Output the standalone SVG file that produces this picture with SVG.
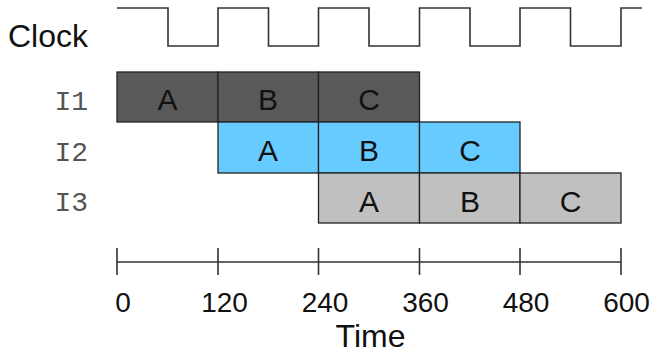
<svg xmlns="http://www.w3.org/2000/svg" width="655" height="354" viewBox="0 0 655 354">
<style>
.s{font-family:"Liberation Sans",Arial,sans-serif;fill:#111;text-anchor:middle}
.lbl{font-size:30px}
.big{font-size:32px}
.num{font-size:28px}
.mono{font-family:"Liberation Mono","Courier New",monospace;font-size:28px;fill:#555;text-anchor:end}
.blk{stroke:#222;stroke-width:1.3}
.d{fill:#595959}.b{fill:#66ccff}.g{fill:#c0c0c0}
.ln{fill:none;stroke:#333;stroke-width:1.6}
</style>
<rect width="655" height="354" fill="#fff"/>
<g id="clock">
<text class="s big" x="48" y="47">Clock</text>
<path class="ln" d="M117,8H168V46H218V8H268.5V46H318.5V8H369V46H419.5V8H470V46H520V8H570.5V46H621V8H642"/>
</g>
<g id="row-I1">
<text class="mono" x="88" y="110">I1</text>
<rect class="blk d" x="117" y="72" width="101" height="50"/>
<rect class="blk d" x="218" y="72" width="100.5" height="50"/>
<rect class="blk d" x="318.5" y="72" width="101" height="50"/>
<text class="s lbl" x="167.5" y="110">A</text>
<text class="s lbl" x="268" y="110">B</text>
<text class="s lbl" x="369" y="110">C</text>
</g>
<g id="row-I2">
<text class="mono" x="88" y="161">I2</text>
<rect class="blk b" x="218" y="122" width="100.5" height="51"/>
<rect class="blk b" x="318.5" y="122" width="101" height="51"/>
<rect class="blk b" x="419.5" y="122" width="100.5" height="51"/>
<text class="s lbl" x="268" y="161">A</text>
<text class="s lbl" x="369" y="161">B</text>
<text class="s lbl" x="470" y="161">C</text>
</g>
<g id="row-I3">
<text class="mono" x="88" y="211">I3</text>
<rect class="blk g" x="318.5" y="173" width="101" height="50"/>
<rect class="blk g" x="419.5" y="173" width="100.5" height="50"/>
<rect class="blk g" x="520" y="173" width="101" height="50"/>
<text class="s lbl" x="369" y="212">A</text>
<text class="s lbl" x="470" y="212">B</text>
<text class="s lbl" x="570.5" y="212">C</text>
</g>
<g id="axis">
<path class="ln" d="M117,262H621M117,248V275M218,248V275M318.5,248V275M419.5,248V275M520,248V275M621,248V275"/>
<text class="s num" x="123" y="312">0</text>
<text class="s num" x="224.5" y="312">120</text>
<text class="s num" x="325" y="312">240</text>
<text class="s num" x="425.5" y="312">360</text>
<text class="s num" x="526" y="312">480</text>
<text class="s num" x="626.5" y="312">600</text>
<text class="s big" x="370.5" y="347">Time</text>
</g>
</svg>
